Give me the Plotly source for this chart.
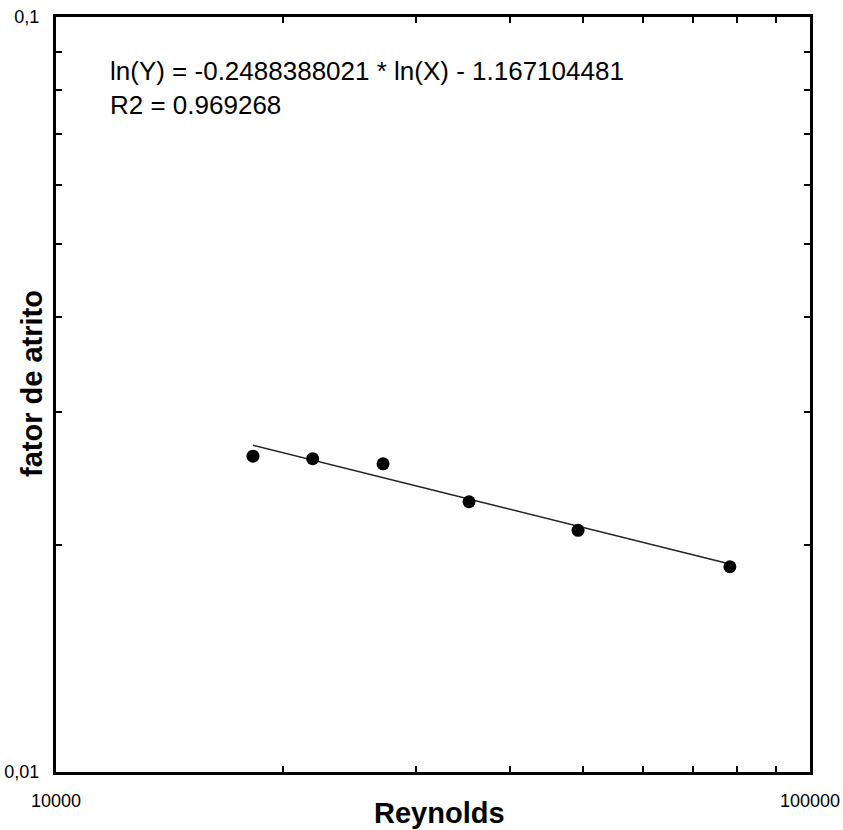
import numpy as np
import plotly.graph_objects as go

# Data
reynolds = [18250, 21900, 27150, 35300, 49250, 78300]
fator_atrito = [0.0262, 0.0260, 0.0256, 0.0228, 0.0209, 0.0187]

# Fit coefficients shown on the chart
fit_slope = -0.2488388021
fit_intercept = -1.167104481
r2_text = "R2 = 0.969268"

x_ticks = [10000, 20000, 30000, 40000, 50000, 60000, 70000, 80000, 90000, 100000]
x_ticktext = ["10000", "", "", "", "", "", "", "", "", "100000"]
y_ticks = [0.01, 0.02, 0.03, 0.04, 0.05, 0.06, 0.07, 0.08, 0.09, 0.1]
y_ticktext = ["0,01", "", "", "", "", "", "", "", "", "0,1"]

fit_x = np.geomspace(min(reynolds), max(reynolds), 50)
fit_y = np.exp(fit_slope * np.log(fit_x) + fit_intercept)

fig = go.Figure()
fig.add_trace(go.Scatter(x=fit_x, y=fit_y, mode="lines",
                         line=dict(color="#222222", width=1.5), showlegend=False))
fig.add_trace(go.Scatter(x=reynolds, y=fator_atrito, mode="markers",
                         marker=dict(color="black", size=13), showlegend=False))

font_family = "Liberation Sans, Arial, sans-serif"
eq_text = f"ln(Y) = {fit_slope:.10f} * ln(X) - {abs(fit_intercept):.9f}"
fig.add_annotation(xref="paper", yref="paper", x=0.069, y=0.9066,
                   xanchor="left", yanchor="middle", showarrow=False, align="left",
                   text=eq_text + "<br>" + r2_text,
                   font=dict(family=font_family, size=26, color="black"))
# Axis titles
fig.add_annotation(xref="paper", yref="paper", x=0.509, y=-0.0543,
                   xanchor="center", yanchor="middle", showarrow=False,
                   text="<b>Reynolds</b>",
                   font=dict(family=font_family, size=29, color="black"))
fig.add_annotation(xref="paper", yref="paper", x=-0.0318, y=0.514,
                   xanchor="center", yanchor="middle", showarrow=False, textangle=-90,
                   text="<b>fator de atrito</b>",
                   font=dict(family=font_family, size=29, color="black"))

axis_common = dict(showline=True, linewidth=3, linecolor="black", mirror="allticks",
                   ticks="inside", ticklen=6, tickwidth=2, tickcolor="black",
                   showgrid=False, zeroline=False, automargin=False,
                   tickfont=dict(family=font_family, size=18, color="black"))

fig.update_xaxes(type="log", range=[4, 5], tickvals=x_ticks, ticktext=x_ticktext,
                 ticklabelstandoff=10, **axis_common)
fig.update_yaxes(type="log", range=[-2, -1], tickvals=y_ticks, ticktext=y_ticktext,
                 ticklabelstandoff=10, **axis_common)

fig.update_layout(width=843, height=830, margin=dict(l=56, r=33, t=17, b=58),
                  plot_bgcolor="white", paper_bgcolor="white")

fig.write_html("out.html")
